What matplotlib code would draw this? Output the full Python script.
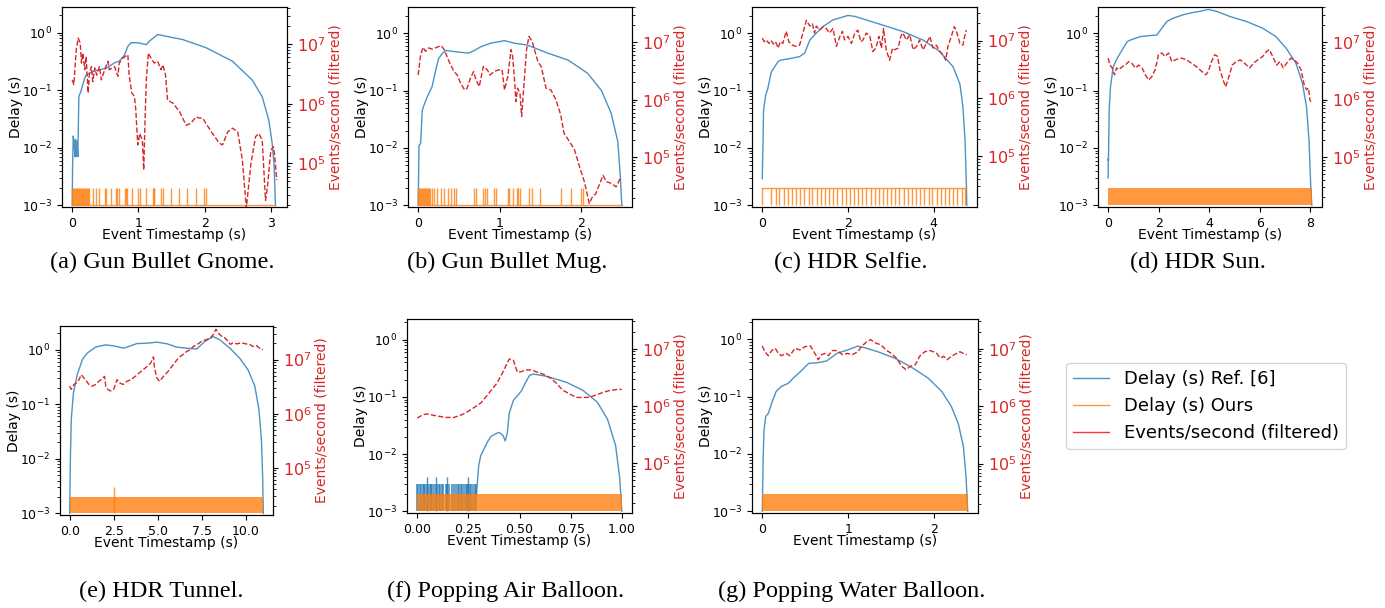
import numpy as np
import matplotlib
matplotlib.use("Agg")
import matplotlib.pyplot as plt
from matplotlib.lines import Line2D

W, H = 1385, 608

# ---------------- (a) Gun Bullet Gnome ----------------
a_ref_t = [0.0, 0.005, 0.015, 0.03, 0.04, 0.05, 0.06, 0.07, 0.085, 0.10, 0.136, 0.186, 0.22,
           0.36, 0.51, 0.64, 0.71, 0.79, 0.84, 0.89, 0.99, 1.12, 1.17, 1.29, 1.67, 2.02, 2.42,
           2.72, 2.87, 2.97, 3.02, 3.05, 3.07]
a_ref_delay = [1e-3, 4.5e-3, 1.6e-2, 1.2e-2, 7e-3, 1.4e-2, 7e-3, 1.3e-2, 7e-3, 0.077, 0.10, 0.16,
               0.19, 0.22, 0.24, 0.30, 0.32, 0.41, 0.58, 0.67, 0.67, 0.62, 0.72, 0.93, 0.76, 0.55,
               0.32, 0.15, 0.077, 0.03, 0.012, 5e-3, 1e-3]
a_rate_t = [0.00, 0.025, 0.06, 0.09, 0.12, 0.14, 0.16, 0.19, 0.21, 0.24, 0.26, 0.29, 0.31, 0.34,
            0.37, 0.41, 0.44, 0.49, 0.54, 0.56, 0.64, 0.69, 0.71, 0.76, 0.84, 0.86, 0.90, 0.94,
            0.96, 0.99, 1.02, 1.06, 1.08, 1.10, 1.12, 1.15, 1.19, 1.24, 1.29, 1.34, 1.37, 1.41,
            1.44, 1.52, 1.62, 1.72, 1.79, 1.87, 1.92, 1.97, 2.02, 2.12, 2.22, 2.27, 2.35, 2.42,
            2.50, 2.57, 2.63, 2.70, 2.77, 2.82, 2.87, 2.92, 2.95, 3.00, 3.04, 3.06, 3.09]
a_rate_exp = [6.40, 6.32, 6.90, 7.10, 7.02, 6.68, 6.85, 6.57, 6.79, 6.18, 6.51, 6.62, 6.37, 6.60,
              6.48, 6.62, 6.40, 6.57, 6.71, 6.57, 6.62, 6.46, 6.68, 6.76, 6.82, 6.48, 6.18, 6.12,
              5.90, 5.31, 5.50, 5.39, 4.89, 5.73, 6.40, 6.85, 6.76, 6.68, 6.71, 6.57, 6.65, 6.48,
              6.06, 6.01, 5.87, 5.64, 5.67, 5.78, 5.76, 5.76, 5.67, 5.50, 5.34, 5.31, 5.53, 5.59,
              5.53, 5.06, 4.25, 5.00, 5.45, 5.50, 5.39, 4.38, 4.61, 5.22, 5.28, 5.11, 4.72]
a_ours_spikes = [0.00, 0.015, 0.03, 0.045, 0.06, 0.075, 0.09, 0.105, 0.12, 0.135, 0.15, 0.165,
                 0.18, 0.195, 0.21, 0.225, 0.24, 0.26, 0.31, 0.36, 0.41, 0.49, 0.51, 0.59, 0.66,
                 0.68, 0.70, 0.79, 0.81, 0.83, 0.91, 0.99, 1.02, 1.12, 1.22, 1.23, 1.24, 1.34,
                 1.37, 1.49, 1.62, 1.74, 1.87, 1.99, 2.02]
a_end = 3.07

# ---------------- (b) Gun Bullet Mug ----------------
b_ref_t = [0.0, 0.01, 0.03, 0.05, 0.07, 0.11, 0.17, 0.21, 0.25, 0.30, 0.34, 0.48, 0.62, 0.69,
           0.77, 0.89, 1.06, 1.18, 1.34, 1.59, 1.84, 2.08, 2.25, 2.37, 2.45, 2.48, 2.50]
b_ref_delay = [1e-3, 0.011, 0.012, 0.045, 0.055, 0.077, 0.116, 0.21, 0.36, 0.45, 0.50, 0.47,
               0.45, 0.50, 0.58, 0.67, 0.74, 0.67, 0.62, 0.45, 0.34, 0.20, 0.10, 0.04, 0.013,
               3.5e-3, 1e-3]
b_rate_t = [0.00, 0.03, 0.06, 0.09, 0.13, 0.17, 0.21, 0.28, 0.32, 0.38, 0.44, 0.48, 0.52, 0.57,
            0.60, 0.64, 0.68, 0.71, 0.75, 0.80, 0.85, 0.88, 0.93, 0.99, 1.03, 1.06, 1.10, 1.14,
            1.16, 1.18, 1.20, 1.22, 1.25, 1.27, 1.30, 1.33, 1.36, 1.40, 1.47, 1.51, 1.57, 1.63,
            1.69, 1.75, 1.79, 1.86, 1.92, 1.98, 2.04, 2.10, 2.14, 2.18, 2.23, 2.27, 2.31, 2.37,
            2.43, 2.49]
b_rate_exp = [6.43, 6.78, 6.91, 6.84, 6.90, 6.88, 6.90, 6.94, 6.87, 6.66, 6.49, 6.43, 6.29, 6.17,
              6.20, 6.37, 6.49, 6.34, 6.23, 6.58, 6.52, 6.43, 6.49, 6.52, 6.52, 6.17, 6.40, 6.87,
              6.75, 6.40, 5.97, 6.20, 6.11, 5.71, 6.29, 6.87, 7.10, 7.01, 6.66, 6.58, 6.20, 6.17,
              6.00, 5.74, 5.42, 5.27, 5.13, 4.84, 4.58, 4.20, 4.32, 4.37, 4.55, 4.69, 4.58, 4.55,
              4.49, 4.66]
b_ours_spikes = [0.00, 0.012, 0.024, 0.036, 0.048, 0.06, 0.072, 0.084, 0.096, 0.108, 0.12, 0.132,
                 0.144, 0.17, 0.20, 0.23, 0.28, 0.32, 0.37, 0.40, 0.44, 0.46, 0.68, 0.71, 0.80,
                 0.82, 0.84, 0.93, 0.95, 1.10, 1.12, 1.16, 1.21, 1.23, 1.25, 1.36, 1.40, 1.50,
                 1.75, 1.88, 2.00, 2.02]
b_end = 2.50

# ---------------- (c) HDR Selfie ----------------
c_ref_t = [0.0, 0.02, 0.03, 0.08, 0.13, 0.21, 0.29, 0.37, 0.44, 0.64, 0.87, 0.99, 1.11, 1.26,
           1.42, 1.65, 2.00, 2.16, 2.66, 3.28, 3.75, 4.14, 4.45, 4.61, 4.68, 4.73, 4.76, 4.77]
c_ref_delay = [2.9e-3, 0.0135, 0.045, 0.083, 0.108, 0.21, 0.26, 0.32, 0.34, 0.36, 0.39, 0.45,
               0.76, 1.0, 1.31, 1.7, 2.04, 1.96, 1.5, 1.07, 0.76, 0.48, 0.26, 0.13, 0.052, 0.0134,
               2.4e-3, 1e-3]
c_rate_t = [0.00, 0.05, 0.09, 0.16, 0.21, 0.26, 0.31, 0.37, 0.42, 0.48, 0.56, 0.62, 0.70, 0.78,
            0.87, 0.95, 1.03, 1.11, 1.17, 1.22, 1.26, 1.34, 1.42, 1.49, 1.57, 1.65, 1.73, 1.81,
            1.87, 1.92, 2.00, 2.08, 2.16, 2.23, 2.30, 2.35, 2.43, 2.51, 2.58, 2.65, 2.72, 2.78,
            2.83, 2.89, 2.97, 3.04, 3.09, 3.17, 3.23, 3.28, 3.36, 3.44, 3.52, 3.60, 3.67, 3.75,
            3.83, 3.91, 3.98, 4.06, 4.14, 4.22, 4.28, 4.33, 4.41, 4.48, 4.53, 4.61, 4.68, 4.72,
            4.76]
c_rate_exp = [7.04, 6.98, 7.01, 6.95, 7.00, 6.94, 6.98, 6.87, 6.98, 6.95, 7.16, 6.98, 6.92, 6.90,
              6.92, 7.13, 7.35, 7.25, 7.29, 7.13, 7.25, 7.18, 7.24, 7.21, 7.13, 7.21, 6.90, 7.07,
              7.16, 7.01, 7.07, 6.95, 7.13, 7.18, 6.98, 7.01, 7.13, 7.07, 6.81, 6.87, 7.07, 6.87,
              7.21, 6.84, 6.66, 6.87, 6.84, 6.87, 7.07, 7.13, 7.01, 7.10, 6.84, 6.90, 7.01, 6.84,
              6.95, 7.07, 6.87, 6.92, 6.81, 6.75, 6.66, 6.90, 7.07, 7.24, 7.16, 6.95, 6.92, 7.07,
              7.18]
c_ours_dips = [0.0, 0.21, 0.31, 0.40, 0.50, 0.60, 0.69, 0.79, 0.89, 0.98, 1.08, 1.17, 1.27, 1.37,
               1.46, 1.56, 1.66, 1.75, 1.85, 1.95, 2.04, 2.14, 2.24, 2.33, 2.43, 2.53, 2.62,
               2.72, 2.81, 2.91, 3.01, 3.10, 3.20, 3.30, 3.39, 3.49, 3.59, 3.68, 3.78, 3.88,
               3.97, 4.07, 4.17, 4.26, 4.36, 4.45, 4.55, 4.65, 4.74]
c_end = 4.76

# ---------------- (d) HDR Sun ----------------
d_ref_t = [0.0, 0.005, 0.01, 0.04, 0.09, 0.20, 0.35, 0.55, 0.75, 0.88, 1.27, 1.66, 1.93, 2.12,
           2.32, 2.58, 2.98, 3.37, 3.63, 3.96, 4.29, 4.81, 5.47, 6.12, 6.64, 7.04, 7.43, 7.69,
           7.85, 7.95, 8.02, 8.06]
d_ref_delay = [3e-3, 6.5e-3, 6e-3, 0.045, 0.115, 0.26, 0.36, 0.51, 0.71, 0.76, 0.87, 0.91, 0.93,
               1.22, 1.6, 1.83, 2.1, 2.3, 2.4, 2.6, 2.4, 1.96, 1.6, 1.22, 0.87, 0.55, 0.30, 0.133,
               0.052, 0.0134, 2e-3, 1e-3]
d_rate_t = [0.0, 0.07, 0.16, 0.25, 0.33, 0.42, 0.55, 0.68, 0.81, 0.94, 1.07, 1.21, 1.34, 1.47,
            1.60, 1.73, 1.86, 1.99, 2.12, 2.25, 2.39, 2.52, 2.71, 2.91, 3.11, 3.30, 3.50, 3.70,
            3.87, 3.96, 4.09, 4.22, 4.33, 4.42, 4.55, 4.65, 4.78, 4.91, 5.07, 5.23, 5.40, 5.60,
            5.75, 5.92, 6.12, 6.28, 6.38, 6.51, 6.67, 6.80, 6.93, 7.06, 7.23, 7.37, 7.50, 7.63,
            7.76, 7.85, 7.93, 7.98, 8.02]
d_rate_exp = [6.72, 6.60, 6.55, 6.43, 6.55, 6.52, 6.57, 6.60, 6.66, 6.63, 6.55, 6.60, 6.55, 6.43,
              6.34, 6.40, 6.52, 6.78, 6.81, 6.75, 6.81, 6.66, 6.70, 6.72, 6.69, 6.63, 6.57, 6.49,
              6.43, 6.49, 6.66, 6.78, 6.75, 6.52, 6.34, 6.22, 6.40, 6.60, 6.66, 6.69, 6.63, 6.55,
              6.63, 6.69, 6.75, 6.84, 6.87, 6.75, 6.60, 6.66, 6.55, 6.63, 6.72, 6.69, 6.63, 6.52,
              6.25, 6.17, 6.20, 6.00, 5.96]
d_ours_band = [0.0, 8.06]

# ---------------- (e) HDR Tunnel ----------------
e_ref_t = [0.0, 0.04, 0.09, 0.21, 0.43, 0.72, 1.0, 1.47, 2.03, 2.5, 3.07, 3.35, 3.82, 4.39, 4.95,
           5.52, 6.08, 6.65, 7.21, 7.68, 8.15, 8.53, 9.10, 9.66, 10.13, 10.51, 10.75, 10.89,
           10.96, 11.0]
e_ref_delay = [1e-3, 0.01, 0.053, 0.16, 0.35, 0.66, 0.87, 1.12, 1.23, 1.18, 1.07, 1.15, 1.3, 1.32,
               1.38, 1.29, 1.12, 1.07, 1.03, 1.42, 1.75, 1.52, 1.07, 0.7, 0.43, 0.22, 0.081,
               0.023, 5e-3, 1e-3]
e_rate_t = [0.0, 0.09, 0.24, 0.40, 0.53, 0.66, 0.81, 0.96, 1.09, 1.28, 1.47, 1.66, 1.85, 1.98,
            2.05, 2.17, 2.32, 2.50, 2.69, 2.84, 3.03, 3.26, 3.48, 3.73, 3.97, 4.20, 4.43, 4.61,
            4.76, 4.82, 4.95, 5.10, 5.33, 5.61, 5.89, 6.18, 6.42, 6.65, 6.84, 7.02, 7.25, 7.50,
            7.78, 8.00, 8.15, 8.31, 8.44, 8.63, 8.81, 9.00, 9.13, 9.28, 9.51, 9.75, 10.00, 10.23,
            10.41, 10.60, 10.79, 10.98]
e_rate_exp = [6.51, 6.45, 6.54, 6.57, 6.63, 6.72, 6.66, 6.60, 6.54, 6.51, 6.54, 6.60, 6.65, 6.69,
              6.51, 6.45, 6.42, 6.45, 6.63, 6.57, 6.54, 6.60, 6.63, 6.69, 6.76, 6.82, 6.88, 6.94,
              7.05, 6.85, 6.66, 6.60, 6.69, 6.79, 6.91, 7.03, 7.09, 7.15, 7.18, 7.24, 7.28, 7.34,
              7.37, 7.40, 7.46, 7.56, 7.49, 7.43, 7.40, 7.34, 7.28, 7.31, 7.29, 7.31, 7.29, 7.28,
              7.24, 7.26, 7.21, 7.18]
e_ours_band = [0.0, 11.0]
e_ours_peak_t = [2.5]
e_ours_peak = [3.05e-3]

# ---------------- (f) Popping Air Balloon ----------------
f_ref_t = [0.29, 0.30, 0.31, 0.32, 0.34, 0.36, 0.39, 0.40, 0.42, 0.43, 0.44, 0.45, 0.47, 0.49,
           0.51, 0.53, 0.55, 0.57, 0.63, 0.73, 0.81, 0.88, 0.93, 0.97, 0.99, 1.0]
f_ref_delay = [2e-3, 6.1e-3, 9.3e-3, 0.011, 0.0155, 0.0203, 0.0232, 0.024, 0.021, 0.017, 0.023,
               0.052, 0.087, 0.105, 0.128, 0.18, 0.24, 0.25, 0.23, 0.18, 0.13, 0.081, 0.041,
               0.014, 3.8e-3, 1e-3]
# early part: reference delay jumps between 1 ms and 3 ms (some 4 ms)
f_ref_jitter_t = [0.000, 0.006, 0.012, 0.018, 0.026, 0.033, 0.040, 0.047, 0.055, 0.061, 0.068,
                  0.074, 0.083, 0.090, 0.097, 0.105, 0.112, 0.120, 0.127, 0.140, 0.147, 0.155,
                  0.170, 0.178, 0.190, 0.197, 0.205, 0.212, 0.220, 0.228, 0.236, 0.243, 0.250,
                  0.258, 0.265, 0.272, 0.280, 0.287]
f_ref_jitter_tall_t = [0.047, 0.093, 0.145, 0.248]
f_rate_t = [0.0, 0.03, 0.05, 0.09, 0.14, 0.18, 0.22, 0.26, 0.31, 0.35, 0.39, 0.42, 0.44, 0.45,
            0.47, 0.48, 0.49, 0.51, 0.53, 0.56, 0.58, 0.62, 0.65, 0.68, 0.71, 0.75, 0.78, 0.81,
            0.84, 0.88, 0.91, 0.94, 0.98, 1.0]
f_rate_exp = [5.79, 5.85, 5.86, 5.83, 5.80, 5.80, 5.85, 5.93, 6.05, 6.22, 6.40, 6.60, 6.75, 6.82,
              6.80, 6.69, 6.59, 6.60, 6.63, 6.63, 6.60, 6.55, 6.49, 6.40, 6.28, 6.20, 6.15, 6.15,
              6.15, 6.20, 6.24, 6.27, 6.29, 6.29]
f_ours_band = [0.0, 1.0]

# ---------------- (g) Popping Water Balloon ----------------
g_ref_t = [0.0, 0.01, 0.02, 0.04, 0.07, 0.11, 0.16, 0.22, 0.30, 0.36, 0.44, 0.54, 0.64, 0.75,
           0.87, 0.99, 1.11, 1.18, 1.34, 1.54, 1.73, 1.93, 2.09, 2.20, 2.28, 2.34, 2.37, 2.39]
g_ref_delay = [1e-3, 7.9e-3, 0.026, 0.045, 0.051, 0.077, 0.122, 0.15, 0.17, 0.21, 0.27, 0.38,
               0.39, 0.42, 0.57, 0.65, 0.76, 0.72, 0.61, 0.47, 0.33, 0.21, 0.122, 0.067, 0.034,
               0.0134, 4e-3, 1e-3]
g_rate_t = [0.0, 0.03, 0.07, 0.11, 0.15, 0.18, 0.22, 0.28, 0.32, 0.38, 0.44, 0.50, 0.56, 0.62,
            0.65, 0.69, 0.73, 0.77, 0.81, 0.87, 0.93, 0.99, 1.05, 1.11, 1.16, 1.22, 1.26, 1.32,
            1.38, 1.44, 1.50, 1.56, 1.62, 1.67, 1.73, 1.78, 1.83, 1.89, 1.95, 1.99, 2.03, 2.07,
            2.11, 2.15, 2.20, 2.26, 2.30, 2.34, 2.38]
g_rate_exp = [7.05, 6.95, 6.88, 6.97, 7.01, 6.94, 6.88, 6.92, 6.88, 7.01, 6.98, 7.04, 7.05, 6.90,
              6.81, 6.90, 6.92, 6.88, 6.97, 6.97, 6.90, 6.92, 6.90, 6.95, 7.05, 7.13, 7.16, 7.10,
              7.07, 6.98, 6.92, 6.84, 6.70, 6.64, 6.70, 6.72, 6.87, 6.95, 6.97, 6.95, 6.92, 6.84,
              6.87, 6.81, 6.87, 6.92, 6.95, 6.92, 6.90]
g_ours_band = [0.0, 2.39]

captions = ["(a) Gun Bullet Gnome.", "(b) Gun Bullet Mug.", "(c) HDR Selfie.", "(d) HDR Sun.",
            "(e) HDR Tunnel.", "(f) Popping Air Balloon.", "(g) Popping Water Balloon."]

BLUE, ORANGE, RED = "tab:blue", "tab:orange", "tab:red"

fig = plt.figure(figsize=(W / 100, H / 100), dpi=100)


def add_box(l, r, t, b):
    return fig.add_axes([l / W, 1 - b / H, (r - l) / W, (b - t) / H])


def panel(box, ref_t, ref_d, rate_t, rate_exp, xticks, ylim_l, ylim_r):
    ax = add_box(*box)
    ax2 = ax.twinx()
    ax.plot(ref_t, ref_d, color=BLUE, lw=1, alpha=0.8)
    ax2.plot(rate_t, 10 ** np.array(rate_exp), color=RED, ls="--", lw=1)
    ax.set_yscale("log")
    ax2.set_yscale("log")
    ax.set_ylim(*ylim_l)
    ax2.set_ylim(*ylim_r)
    ax.set_xticks(xticks)
    ax.tick_params(labelsize=9)
    ax.set_xlabel("Event Timestamp (s)", fontsize=10, labelpad=-1)
    ax.set_ylabel("Delay (s)", fontsize=10, labelpad=-1)
    ax2.set_ylabel("Events/second (filtered)", color=RED, fontsize=10, labelpad=2)
    ax2.tick_params(axis="y", labelcolor=RED, labelsize=11.5)
    return ax, ax2


def ours_spikes(ax, times, end, base=1e-3):
    ax.plot([0, end], [base, base], color=ORANGE, lw=1, alpha=0.8)
    ax.vlines(times, 1e-3, 2e-3, color=ORANGE, lw=1, alpha=0.8)


def ours_band(ax, span):
    ax.fill_between(span, 1e-3, 2e-3, color=ORANGE, alpha=0.8, lw=0, zorder=2.5)


# (a)
ax, _ = panel((62, 287, 7, 207), a_ref_t, a_ref_delay, a_rate_t, a_rate_exp,
              [0, 1, 2, 3], (10 ** -3.03, 2.8), (10 ** 4.27, 10 ** 7.62))
ours_spikes(ax, a_ours_spikes, a_end)

# (b)
ax, _ = panel((408, 632, 7, 207), b_ref_t, b_ref_delay, b_rate_t, b_rate_exp,
              [0, 1, 2], (10 ** -3.03, 2.86), (10 ** 4.14, 10 ** 7.61))
ours_spikes(ax, b_ours_spikes, b_end)

# (c)
ax, _ = panel((752, 977, 7, 207), c_ref_t, c_ref_delay, c_rate_t, c_rate_exp,
              [0, 2, 4], (10 ** -3.03, 2.86), (10 ** 4.12, 10 ** 7.58))
ours_spikes(ax, c_ours_dips, c_end, base=2e-3)

# (d)
ax, _ = panel((1098, 1322, 7, 207), d_ref_t, d_ref_delay, d_rate_t, d_rate_exp,
              [0, 2, 4, 6, 8], (10 ** -3.03, 2.86), (10 ** 4.13, 10 ** 7.61))
ours_band(ax, d_ours_band)

# (e)
ax, _ = panel((60, 273, 326, 515), e_ref_t, e_ref_delay, e_rate_t, e_rate_exp,
              [0, 2.5, 5, 7.5, 10], (10 ** -3.03, 2.73), (10 ** 4.13, 10 ** 7.62))
ax.set_xticklabels(["0.0", "2.5", "5.0", "7.5", "10.0"])
ours_band(ax, e_ours_band)
ax.vlines(e_ours_peak_t, 1e-3, e_ours_peak, color=ORANGE, lw=1, alpha=0.8)

# (f)
ax, _ = panel((407, 632, 319, 513), f_ref_t, f_ref_delay, f_rate_t, f_rate_exp,
              [0, 0.25, 0.5, 0.75, 1.0], (10 ** -3.03, 2.3), (10 ** 4.13, 10 ** 7.52))
ax.set_xticklabels(["0.00", "0.25", "0.50", "0.75", "1.00"])
ax.vlines(f_ref_jitter_t, 1e-3, 3e-3, color=BLUE, lw=1.2, alpha=0.8)
ax.vlines(f_ref_jitter_tall_t, 1e-3, 4e-3, color=BLUE, lw=1, alpha=0.8)
ours_band(ax, f_ours_band)

# (g)
ax, _ = panel((752, 978, 319, 513), g_ref_t, g_ref_delay, g_rate_t, g_rate_exp,
              [0, 1, 2], (10 ** -3.03, 2.26), (10 ** 4.14, 10 ** 7.52))
ours_band(ax, g_ours_band)

# captions (sub-figure labels)
cap_pos = [(162, 262), (507, 262), (851, 262), (1198, 262), (161, 591), (506, 591), (852, 591)]
for text, (cx, cy) in zip(captions, cap_pos):
    fig.text(cx / W, 1 - cy / H, text, ha="center", va="center",
             family="Liberation Serif", fontsize=17.5)

handles = [Line2D([], [], color=BLUE, alpha=0.8, lw=1),
           Line2D([], [], color=ORANGE, alpha=0.8, lw=1),
           Line2D([], [], color="red", alpha=0.8, lw=1)]
fig.legend(handles, ["Delay (s) Ref. [6]", "Delay (s) Ours", "Events/second (filtered)"],
           loc="center", bbox_to_anchor=(1206 / W, 1 - 406 / H), fontsize=13)

fig.savefig("out.png", dpi=100)
